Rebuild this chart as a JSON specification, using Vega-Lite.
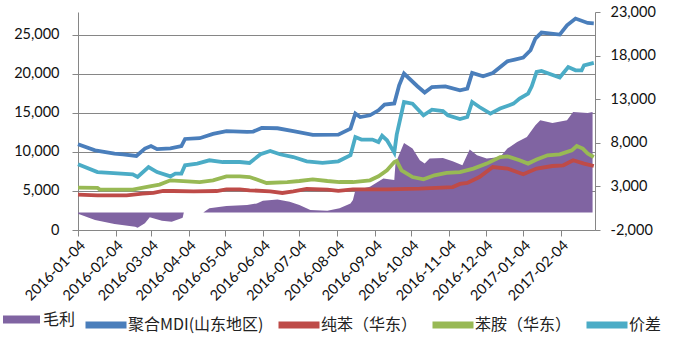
{
  "$schema": "https://vega.github.io/schema/vega-lite/v6.json",
  "width": 517,
  "height": 218,
  "autosize": {"type": "none"},
  "padding": {"left": 78, "top": 12, "right": 84, "bottom": 123},
  "background": "white",
  "config": {
    "view": {"stroke": null},
    "font": "Lato",
    "axis": {
      "labelFont": "Lato",
      "labelFontSize": 14.5,
      "labelColor": "#111111",
      "domainColor": "#868686",
      "tickColor": "#868686",
      "gridColor": "#868686",
      "title": null
    }
  },
  "datasets": {
    "margin": [
      {"date": "2016-01-04", "value": -150},
      {"date": "2016-01-18", "value": -860},
      {"date": "2016-02-03", "value": -1320},
      {"date": "2016-02-20", "value": -1620},
      {"date": "2016-02-22", "value": -1740},
      {"date": "2016-02-28", "value": -1240},
      {"date": "2016-03-03", "value": -550},
      {"date": "2016-03-13", "value": -940},
      {"date": "2016-03-21", "value": -1050},
      {"date": "2016-03-29", "value": -660},
      {"date": "2016-03-30", "value": -600},
      {"date": "2016-03-31", "value": 0},
      {"date": "2016-04-16", "value": 0},
      {"date": "2016-04-21", "value": 480},
      {"date": "2016-05-05", "value": 740},
      {"date": "2016-05-22", "value": 860},
      {"date": "2016-05-30", "value": 1050},
      {"date": "2016-06-04", "value": 1350},
      {"date": "2016-06-16", "value": 1510},
      {"date": "2016-06-26", "value": 1240},
      {"date": "2016-07-04", "value": 860},
      {"date": "2016-07-13", "value": 290},
      {"date": "2016-07-27", "value": 210},
      {"date": "2016-08-06", "value": 480},
      {"date": "2016-08-15", "value": 1050},
      {"date": "2016-08-17", "value": 1430},
      {"date": "2016-08-19", "value": 2570},
      {"date": "2016-08-31", "value": 2950},
      {"date": "2016-09-11", "value": 3910},
      {"date": "2016-09-20", "value": 3720},
      {"date": "2016-09-21", "value": 5630},
      {"date": "2016-09-28", "value": 7990},
      {"date": "2016-10-05", "value": 7340},
      {"date": "2016-10-11", "value": 6010},
      {"date": "2016-10-15", "value": 5630},
      {"date": "2016-10-19", "value": 6200},
      {"date": "2016-10-30", "value": 6270},
      {"date": "2016-11-07", "value": 5890},
      {"date": "2016-11-15", "value": 5430},
      {"date": "2016-11-21", "value": 7230},
      {"date": "2016-11-27", "value": 6580},
      {"date": "2016-12-05", "value": 6200},
      {"date": "2016-12-16", "value": 6380},
      {"date": "2016-12-22", "value": 7340},
      {"date": "2016-12-30", "value": 8100},
      {"date": "2017-01-07", "value": 8670},
      {"date": "2017-01-14", "value": 10010},
      {"date": "2017-01-18", "value": 10580},
      {"date": "2017-01-28", "value": 10270},
      {"date": "2017-02-09", "value": 10580},
      {"date": "2017-02-14", "value": 11530},
      {"date": "2017-02-26", "value": 11420},
      {"date": "2017-03-02", "value": 11530}
    ],
    "lines": [
      {"series": "聚合MDI(山东地区)", "date": "2016-01-04", "value": 10970},
      {"series": "聚合MDI(山东地区)", "date": "2016-01-18", "value": 10200},
      {"series": "聚合MDI(山东地区)", "date": "2016-02-03", "value": 9780},
      {"series": "聚合MDI(山东地区)", "date": "2016-02-10", "value": 9690},
      {"series": "聚合MDI(山东地区)", "date": "2016-02-21", "value": 9480},
      {"series": "聚合MDI(山东地区)", "date": "2016-02-28", "value": 10420},
      {"series": "聚合MDI(山东地区)", "date": "2016-03-04", "value": 10750},
      {"series": "聚合MDI(山东地区)", "date": "2016-03-09", "value": 10350},
      {"series": "聚合MDI(山东地区)", "date": "2016-03-20", "value": 10450},
      {"series": "聚合MDI(山东地区)", "date": "2016-03-29", "value": 10750},
      {"series": "聚合MDI(山东地区)", "date": "2016-04-01", "value": 11650},
      {"series": "聚合MDI(山东地区)", "date": "2016-04-13", "value": 11750},
      {"series": "聚合MDI(山东地区)", "date": "2016-04-24", "value": 12300},
      {"series": "聚合MDI(山东地区)", "date": "2016-05-05", "value": 12650},
      {"series": "聚合MDI(山东地区)", "date": "2016-05-22", "value": 12550},
      {"series": "聚合MDI(山东地区)", "date": "2016-05-27", "value": 12600},
      {"series": "聚合MDI(山东地区)", "date": "2016-06-03", "value": 13060},
      {"series": "聚合MDI(山东地区)", "date": "2016-06-16", "value": 13020},
      {"series": "聚合MDI(山东地区)", "date": "2016-06-29", "value": 12650},
      {"series": "聚合MDI(山东地区)", "date": "2016-07-15", "value": 12170},
      {"series": "聚合MDI(山东地区)", "date": "2016-08-05", "value": 12200},
      {"series": "聚合MDI(山东地区)", "date": "2016-08-15", "value": 12980},
      {"series": "聚合MDI(山东地区)", "date": "2016-08-19", "value": 14900},
      {"series": "聚合MDI(山东地区)", "date": "2016-08-23", "value": 14460},
      {"series": "聚合MDI(山东地区)", "date": "2016-08-31", "value": 14680},
      {"series": "聚合MDI(山东地区)", "date": "2016-09-07", "value": 15320},
      {"series": "聚合MDI(山东地区)", "date": "2016-09-12", "value": 16050},
      {"series": "聚合MDI(山东地区)", "date": "2016-09-20", "value": 16200},
      {"series": "聚合MDI(山东地区)", "date": "2016-09-24", "value": 18520},
      {"series": "聚合MDI(山东地区)", "date": "2016-09-28", "value": 20020},
      {"series": "聚合MDI(山东地区)", "date": "2016-10-09", "value": 18400},
      {"series": "聚合MDI(山东地区)", "date": "2016-10-15", "value": 17600},
      {"series": "聚合MDI(山东地区)", "date": "2016-10-21", "value": 18300},
      {"series": "聚合MDI(山东地区)", "date": "2016-11-01", "value": 18390},
      {"series": "聚合MDI(山东地区)", "date": "2016-11-13", "value": 17880},
      {"series": "聚合MDI(山东地区)", "date": "2016-11-19", "value": 18100},
      {"series": "聚合MDI(山东地区)", "date": "2016-11-23", "value": 20100},
      {"series": "聚合MDI(山东地区)", "date": "2016-12-02", "value": 19670},
      {"series": "聚合MDI(山东地区)", "date": "2016-12-10", "value": 20100},
      {"series": "聚合MDI(山东地区)", "date": "2016-12-22", "value": 21590},
      {"series": "聚合MDI(山东地区)", "date": "2016-12-28", "value": 21810},
      {"series": "聚合MDI(山东地区)", "date": "2017-01-04", "value": 22060},
      {"series": "聚合MDI(山东地区)", "date": "2017-01-10", "value": 23000},
      {"series": "聚合MDI(山东地区)", "date": "2017-01-14", "value": 24500},
      {"series": "聚合MDI(山东地区)", "date": "2017-01-19", "value": 25270},
      {"series": "聚合MDI(山东地区)", "date": "2017-02-03", "value": 25010},
      {"series": "聚合MDI(山东地区)", "date": "2017-02-09", "value": 26200},
      {"series": "聚合MDI(山东地区)", "date": "2017-02-16", "value": 27060},
      {"series": "聚合MDI(山东地区)", "date": "2017-02-26", "value": 26500},
      {"series": "聚合MDI(山东地区)", "date": "2017-03-03", "value": 26450},

      {"series": "纯苯（华东）", "date": "2016-01-04", "value": 4530},
      {"series": "纯苯（华东）", "date": "2016-01-20", "value": 4440},
      {"series": "纯苯（华东）", "date": "2016-02-13", "value": 4440},
      {"series": "纯苯（华东）", "date": "2016-02-26", "value": 4660},
      {"series": "纯苯（华东）", "date": "2016-03-06", "value": 4740},
      {"series": "纯苯（华东）", "date": "2016-03-14", "value": 4990},
      {"series": "纯苯（华东）", "date": "2016-03-22", "value": 4990},
      {"series": "纯苯（华东）", "date": "2016-04-08", "value": 4950},
      {"series": "纯苯（华东）", "date": "2016-04-27", "value": 4990},
      {"series": "纯苯（华东）", "date": "2016-05-05", "value": 5210},
      {"series": "纯苯（华东）", "date": "2016-05-16", "value": 5210},
      {"series": "纯苯（华东）", "date": "2016-05-24", "value": 5080},
      {"series": "纯苯（华东）", "date": "2016-06-10", "value": 4950},
      {"series": "纯苯（华东）", "date": "2016-06-20", "value": 4740},
      {"series": "纯苯（华东）", "date": "2016-06-29", "value": 4950},
      {"series": "纯苯（华东）", "date": "2016-07-10", "value": 5250},
      {"series": "纯苯（华东）", "date": "2016-07-27", "value": 5170},
      {"series": "纯苯（华东）", "date": "2016-08-05", "value": 5000},
      {"series": "纯苯（华东）", "date": "2016-08-17", "value": 5210},
      {"series": "纯苯（华东）", "date": "2016-09-14", "value": 5210},
      {"series": "纯苯（华东）", "date": "2016-10-11", "value": 5300},
      {"series": "纯苯（华东）", "date": "2016-11-07", "value": 5500},
      {"series": "纯苯（华东）", "date": "2016-11-13", "value": 5900},
      {"series": "纯苯（华东）", "date": "2016-11-19", "value": 6020},
      {"series": "纯苯（华东）", "date": "2016-11-29", "value": 6780},
      {"series": "纯苯（华东）", "date": "2016-12-10", "value": 8060},
      {"series": "纯苯（华东）", "date": "2016-12-22", "value": 7860},
      {"series": "纯苯（华东）", "date": "2017-01-04", "value": 7130},
      {"series": "纯苯（华东）", "date": "2017-01-15", "value": 7860},
      {"series": "纯苯（华东）", "date": "2017-01-28", "value": 8190},
      {"series": "纯苯（华东）", "date": "2017-02-06", "value": 8280},
      {"series": "纯苯（华东）", "date": "2017-02-14", "value": 8920},
      {"series": "纯苯（华东）", "date": "2017-02-23", "value": 8500},
      {"series": "纯苯（华东）", "date": "2017-03-03", "value": 8190},

      {"series": "苯胺（华东）", "date": "2016-01-04", "value": 5430},
      {"series": "苯胺（华东）", "date": "2016-01-20", "value": 5390},
      {"series": "苯胺（华东）", "date": "2016-01-22", "value": 5170},
      {"series": "苯胺（华东）", "date": "2016-02-18", "value": 5170},
      {"series": "苯胺（华东）", "date": "2016-03-03", "value": 5590},
      {"series": "苯胺（华东）", "date": "2016-03-11", "value": 5810},
      {"series": "苯胺（华东）", "date": "2016-03-20", "value": 6360},
      {"series": "苯胺（华东）", "date": "2016-04-03", "value": 6230},
      {"series": "苯胺（华东）", "date": "2016-04-13", "value": 6140},
      {"series": "苯胺（华东）", "date": "2016-04-24", "value": 6360},
      {"series": "苯胺（华东）", "date": "2016-05-05", "value": 6870},
      {"series": "苯胺（华东）", "date": "2016-05-16", "value": 6870},
      {"series": "苯胺（华东）", "date": "2016-05-24", "value": 6780},
      {"series": "苯胺（华东）", "date": "2016-06-07", "value": 6020},
      {"series": "苯胺（华东）", "date": "2016-06-24", "value": 6140},
      {"series": "苯胺（华东）", "date": "2016-07-04", "value": 6270},
      {"series": "苯胺（华东）", "date": "2016-07-15", "value": 6490},
      {"series": "苯胺（华东）", "date": "2016-07-27", "value": 6270},
      {"series": "苯胺（华东）", "date": "2016-08-06", "value": 6140},
      {"series": "苯胺（华东）", "date": "2016-08-17", "value": 6140},
      {"series": "苯胺（华东）", "date": "2016-08-31", "value": 6360},
      {"series": "苯胺（华东）", "date": "2016-09-07", "value": 6870},
      {"series": "苯胺（华东）", "date": "2016-09-14", "value": 7640},
      {"series": "苯胺（华东）", "date": "2016-09-20", "value": 8700},
      {"series": "苯胺（华东）", "date": "2016-09-22", "value": 8830},
      {"series": "苯胺（华东）", "date": "2016-09-26", "value": 7640},
      {"series": "苯胺（华东）", "date": "2016-10-05", "value": 6780},
      {"series": "苯胺（华东）", "date": "2016-10-14", "value": 6490},
      {"series": "苯胺（华东）", "date": "2016-10-23", "value": 7000},
      {"series": "苯胺（华东）", "date": "2016-11-02", "value": 7300},
      {"series": "苯胺（华东）", "date": "2016-11-13", "value": 7420},
      {"series": "苯胺（华东）", "date": "2016-11-24", "value": 7860},
      {"series": "苯胺（华东）", "date": "2016-12-05", "value": 8500},
      {"series": "苯胺（华东）", "date": "2016-12-16", "value": 9340},
      {"series": "苯胺（华东）", "date": "2016-12-22", "value": 9430},
      {"series": "苯胺（华东）", "date": "2017-01-01", "value": 8920},
      {"series": "苯胺（华东）", "date": "2017-01-08", "value": 8500},
      {"series": "苯胺（华东）", "date": "2017-01-15", "value": 9010},
      {"series": "苯胺（华东）", "date": "2017-01-24", "value": 9560},
      {"series": "苯胺（华东）", "date": "2017-02-03", "value": 9690},
      {"series": "苯胺（华东）", "date": "2017-02-13", "value": 10200},
      {"series": "苯胺（华东）", "date": "2017-02-17", "value": 10750},
      {"series": "苯胺（华东）", "date": "2017-02-22", "value": 10420},
      {"series": "苯胺（华东）", "date": "2017-02-26", "value": 9780},
      {"series": "苯胺（华东）", "date": "2017-03-03", "value": 9340},

      {"series": "价差", "date": "2016-01-04", "value": 8410},
      {"series": "价差", "date": "2016-01-20", "value": 7420},
      {"series": "价差", "date": "2016-01-30", "value": 7300},
      {"series": "价差", "date": "2016-02-18", "value": 7130},
      {"series": "价差", "date": "2016-02-22", "value": 6780},
      {"series": "价差", "date": "2016-03-02", "value": 8060},
      {"series": "价差", "date": "2016-03-09", "value": 7420},
      {"series": "价差", "date": "2016-03-20", "value": 6870},
      {"series": "价差", "date": "2016-03-24", "value": 7220},
      {"series": "价差", "date": "2016-03-29", "value": 7220},
      {"series": "价差", "date": "2016-04-01", "value": 8280},
      {"series": "价差", "date": "2016-04-11", "value": 8500},
      {"series": "价差", "date": "2016-04-21", "value": 8920},
      {"series": "价差", "date": "2016-05-02", "value": 8700},
      {"series": "价差", "date": "2016-05-16", "value": 8700},
      {"series": "价差", "date": "2016-05-24", "value": 8580},
      {"series": "价差", "date": "2016-06-02", "value": 9690},
      {"series": "价差", "date": "2016-06-10", "value": 10110},
      {"series": "价差", "date": "2016-06-18", "value": 9690},
      {"series": "价差", "date": "2016-06-29", "value": 9340},
      {"series": "价差", "date": "2016-07-10", "value": 8790},
      {"series": "价差", "date": "2016-07-23", "value": 8580},
      {"series": "价差", "date": "2016-08-05", "value": 8790},
      {"series": "价差", "date": "2016-08-15", "value": 9560},
      {"series": "价差", "date": "2016-08-19", "value": 11900},
      {"series": "价差", "date": "2016-08-24", "value": 11570},
      {"series": "价差", "date": "2016-09-02", "value": 11570},
      {"series": "价差", "date": "2016-09-07", "value": 11260},
      {"series": "价差", "date": "2016-09-10", "value": 12050},
      {"series": "价差", "date": "2016-09-14", "value": 11480},
      {"series": "价差", "date": "2016-09-20", "value": 9900},
      {"series": "价差", "date": "2016-09-22", "value": 12200},
      {"series": "价差", "date": "2016-09-28", "value": 16380},
      {"series": "价差", "date": "2016-10-05", "value": 16170},
      {"series": "价差", "date": "2016-10-14", "value": 14680},
      {"series": "价差", "date": "2016-10-21", "value": 15400},
      {"series": "价差", "date": "2016-10-30", "value": 15230},
      {"series": "价差", "date": "2016-11-03", "value": 14680},
      {"series": "价差", "date": "2016-11-13", "value": 14200},
      {"series": "价差", "date": "2016-11-19", "value": 14460},
      {"series": "价差", "date": "2016-11-23", "value": 16380},
      {"series": "价差", "date": "2016-11-29", "value": 15740},
      {"series": "价差", "date": "2016-12-08", "value": 14900},
      {"series": "价差", "date": "2016-12-16", "value": 15540},
      {"series": "价差", "date": "2016-12-27", "value": 16170},
      {"series": "价差", "date": "2017-01-01", "value": 16820},
      {"series": "价差", "date": "2017-01-08", "value": 17460},
      {"series": "价差", "date": "2017-01-11", "value": 18390},
      {"series": "价差", "date": "2017-01-15", "value": 20220},
      {"series": "价差", "date": "2017-01-19", "value": 20350},
      {"series": "价差", "date": "2017-02-03", "value": 19510},
      {"series": "价差", "date": "2017-02-10", "value": 20860},
      {"series": "价差", "date": "2017-02-16", "value": 20440},
      {"series": "价差", "date": "2017-02-21", "value": 20440},
      {"series": "价差", "date": "2017-02-23", "value": 21080},
      {"series": "价差", "date": "2017-03-03", "value": 21380}
    ]
  },
  "encoding": {
    "x": {
      "field": "date",
      "type": "temporal",
      "scale": {
        "type": "utc",
        "domain": [
          {"year": 2016, "month": 1, "date": 4, "utc": true},
          {"year": 2017, "month": 3, "date": 4, "utc": true}
        ]
      },
      "axis": {
        "values": [
          {"year": 2016, "month": 1, "date": 4, "utc": true},
          {"year": 2016, "month": 2, "date": 4, "utc": true},
          {"year": 2016, "month": 3, "date": 4, "utc": true},
          {"year": 2016, "month": 4, "date": 4, "utc": true},
          {"year": 2016, "month": 5, "date": 4, "utc": true},
          {"year": 2016, "month": 6, "date": 4, "utc": true},
          {"year": 2016, "month": 7, "date": 4, "utc": true},
          {"year": 2016, "month": 8, "date": 4, "utc": true},
          {"year": 2016, "month": 9, "date": 4, "utc": true},
          {"year": 2016, "month": 10, "date": 4, "utc": true},
          {"year": 2016, "month": 11, "date": 4, "utc": true},
          {"year": 2016, "month": 12, "date": 4, "utc": true},
          {"year": 2017, "month": 1, "date": 4, "utc": true},
          {"year": 2017, "month": 2, "date": 4, "utc": true}
        ],
        "format": "%Y-%m-%d",
        "labelAngle": -45,
        "tickSize": 6,
        "labelPadding": 2,
        "grid": false,
        "domain": true,
        "labelOverlap": false,
        "labelBound": false,
        "labelFlush": false
      }
    }
  },
  "layer": [
    {
      "data": {"name": "margin"},
      "mark": {"type": "area", "opacity": 1, "interpolate": "linear"},
      "encoding": {
        "y": {
          "field": "value",
          "type": "quantitative",
          "stack": null,
          "scale": {"domain": [-2000, 23000], "nice": false, "zero": false},
          "axis": {
            "orient": "right",
            "values": [-2000, 3000, 8000, 13000, 18000, 23000],
            "labelExpr": "(datum.value < 0 ? '-' : '') + format(abs(datum.value), ',')",
            "grid": false,
            "tickSize": 5,
            "labelPadding": 10
          }
        },
        "fill": {
          "datum": "毛利",
          "type": "nominal",
          "scale": {"domain": ["毛利"], "range": ["#8064A2"]},
          "legend": {
            "title": null,
            "orient": "none",
            "legendX": -75,
            "legendY": 289,
            "direction": "horizontal",
            "symbolType": "M-1,-0.22H1V0.22H-1Z",
            "symbolSize": 1369,
            "symbolStrokeWidth": 0,
            "labelFont": "Noto Sans CJK SC",
            "labelFontSize": 16,
            "labelColor": "#222222",
            "labelOffset": 3
          }
        }
      }
    },
    {
      "data": {"name": "lines"},
      "mark": {"type": "line", "strokeWidth": 3.8, "interpolate": "linear"},
      "encoding": {
        "y": {
          "field": "value",
          "type": "quantitative",
          "scale": {"domain": [0, 27900], "nice": false},
          "axis": {
            "orient": "left",
            "values": [0, 5000, 10000, 15000, 20000, 25000],
            "labelExpr": "format(datum.value, ',')",
            "grid": true,
            "gridWidth": 1,
            "tickSize": 6,
            "labelPadding": 13
          }
        },
        "stroke": {
          "field": "series",
          "type": "nominal",
          "scale": {
            "domain": ["聚合MDI(山东地区)", "纯苯（华东）", "苯胺（华东）", "价差"],
            "range": ["#4A7EBB", "#BE4B48", "#98B954", "#4BACC6"]
          },
          "legend": {
            "title": null,
            "orient": "none",
            "legendX": 4,
            "legendY": 289,
            "direction": "horizontal",
            "gridAlign": "none",
            "symbolType": "stroke",
            "symbolSize": 1681,
            "symbolStrokeWidth": 7,
            "labelFont": "Noto Sans CJK SC",
            "labelFontSize": 16,
            "labelColor": "#222222",
            "labelAlign": "left",
            "labelOffset": -2,
            "columnPadding": 0
          }
        }
      }
    }
  ],
  "resolve": {"scale": {"y": "independent"}}
}
